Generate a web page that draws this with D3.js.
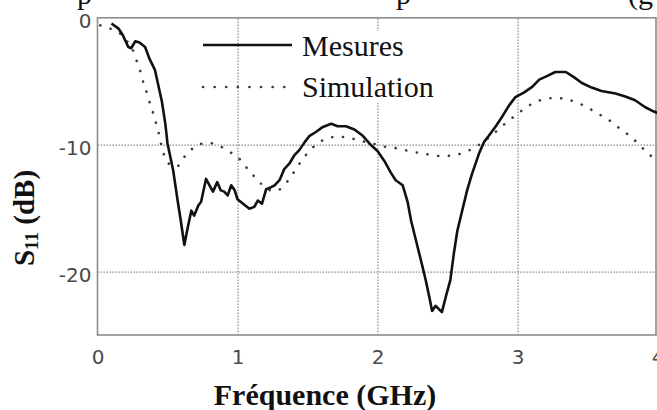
<!DOCTYPE html>
<html>
<head>
<meta charset="utf-8">
<script src="https://cdn.jsdelivr.net/npm/d3@7"></script>
<style>
body { margin: 0; background: #fff; }
svg { display: block; }
</style>
</head>
<body>
<div id="chart"></div>
<script>
"use strict";

// measured S11 (solid line)
let mesFreq = [0.10,0.15,0.18,0.22,0.24,0.27,0.30,0.34,0.37,0.41,0.43,0.46,0.485,0.50,0.54,0.575,0.595,0.62,0.645,0.67,0.69,0.72,0.74,0.775,0.80,0.825,0.855,0.88,0.905,0.93,0.955,0.98,1.0,1.04,1.085,1.12,1.145,1.175,1.205,1.24,1.265,1.30,1.335,1.37,1.405,1.44,1.48,1.515,1.56,1.61,1.67,1.715,1.775,1.835,1.895,1.955,2.0,2.05,2.095,2.13,2.18,2.215,2.24,2.275,2.31,2.345,2.37,2.39,2.415,2.46,2.49,2.52,2.545,2.57,2.605,2.64,2.675,2.725,2.76,2.795,2.845,2.89,2.94,2.985,3.045,3.105,3.155,3.21,3.27,3.345,3.40,3.46,3.53,3.60,3.70,3.77,3.84,3.91,3.97,4.0];
let mesDb = [-0.45,-0.85,-1.35,-2.3,-2.4,-1.85,-1.95,-2.3,-3.2,-4.1,-5.1,-6.6,-8.4,-9.9,-12.0,-14.6,-16.0,-17.9,-16.5,-15.2,-15.6,-14.8,-14.5,-12.7,-13.2,-13.7,-12.95,-13.6,-13.7,-14.0,-13.2,-13.6,-14.3,-14.65,-15.05,-14.9,-14.4,-14.65,-13.5,-13.35,-13.2,-12.8,-11.9,-11.5,-10.85,-10.45,-9.8,-9.3,-9.0,-8.6,-8.35,-8.55,-8.55,-8.8,-9.3,-10.05,-10.5,-11.3,-12.2,-12.8,-13.2,-14.5,-16.0,-17.55,-19.1,-20.7,-22.0,-23.1,-22.7,-23.2,-21.9,-20.7,-18.6,-16.8,-15.2,-13.6,-12.3,-10.7,-9.8,-9.3,-8.55,-7.8,-6.9,-6.25,-5.9,-5.45,-4.87,-4.6,-4.27,-4.27,-4.66,-5.14,-5.5,-5.77,-5.97,-6.2,-6.5,-7.03,-7.37,-7.5];

// simulated S11 (dotted line)
let simFreq = [0.02,0.05,0.13,0.20,0.26,0.285,0.31,0.33,0.355,0.375,0.40,0.42,0.44,0.455,0.475,0.51,0.565,0.61,0.66,0.715,0.795,0.865,0.93,1.0,1.045,1.095,1.145,1.20,1.265,1.33,1.375,1.415,1.455,1.50,1.555,1.62,1.69,1.775,1.845,1.92,2.0,2.07,2.15,2.225,2.30,2.38,2.455,2.535,2.61,2.68,2.745,2.81,2.865,2.925,2.985,3.05,3.115,3.19,3.265,3.345,3.415,3.485,3.555,3.625,3.69,3.745,3.815,3.865,3.925,3.98,4.0];
let simDb = [-0.6,-0.75,-1.0,-1.7,-2.74,-3.56,-4.35,-5.2,-6.0,-6.76,-7.6,-8.4,-9.2,-10.0,-10.8,-11.5,-11.75,-11.1,-10.5,-10.0,-9.87,-10.05,-10.5,-10.95,-11.55,-12.2,-12.8,-13.4,-13.65,-13.27,-12.6,-11.97,-11.3,-10.66,-10.05,-9.6,-9.4,-9.4,-9.6,-9.8,-10.0,-10.2,-10.3,-10.5,-10.65,-10.8,-10.9,-10.85,-10.65,-10.3,-9.87,-9.3,-8.8,-8.2,-7.7,-7.16,-6.7,-6.42,-6.32,-6.4,-6.64,-6.98,-7.43,-7.87,-8.35,-8.87,-9.4,-9.98,-10.58,-11.18,-11.4];

let xTicks = [0,1,2,3,4];
let yTicks = [0,-10,-20];
let legendNames = ["Mesures","Simulation"];

let width = 657, height = 410;

let svg = d3.select("#chart")
.append("svg")
.attr("width",width)
.attr("height",height);

// scales
let xScale = d3.scaleLinear()
.domain([0,4])
.range([97.5,657.5]);

let yScale = d3.scaleLinear()
.domain([-25,0])
.range([335,17.8]);

// fragments of the text line above the figure (cut by the crop)
let topFrag = [["p",77],["p",396],["(g",628]];
svg.selectAll("text.frag")
.data(topFrag)
.join("text")
.attr("class","frag")
.attr("x",d => d[1])
.attr("y",4)
.attr("font-family","Liberation Serif, serif")
.attr("font-size",30)
.attr("fill","#111")
.text(d => d[0]);

// grid
let gridX = svg.append("g")
.attr("transform","translate(0,335)")
.call(d3.axisBottom(xScale).tickValues([1,2,3]).tickSize(-317.2).tickFormat(""));
let gridY = svg.append("g")
.attr("transform","translate(97.5,0)")
.call(d3.axisLeft(yScale).tickValues([-10,-20]).tickSize(-560).tickFormat(""));
svg.selectAll(".domain").remove();
svg.selectAll(".tick line")
.attr("stroke","#8a8a8a")
.attr("stroke-width",1.2)
.attr("stroke-dasharray","1.5,1.5");

// frame
svg.append("rect")
.attr("x",97.5)
.attr("y",17.8)
.attr("width",558.5)
.attr("height",317.2)
.attr("fill","none")
.attr("stroke","#8c8c8c")
.attr("stroke-width",1.6);

// tick labels
let xAxis = svg.append("g")
.attr("transform","translate(0,335)")
.call(d3.axisBottom(xScale).tickValues(xTicks).tickSize(0).tickPadding(15).tickFormat(d3.format("d")));
let yAxis = svg.append("g")
.attr("transform","translate(97.5,0)")
.call(d3.axisLeft(yScale).tickValues(yTicks).tickSize(0).tickPadding(6).tickFormat(d => d < 0 ? "-" + Math.abs(d) : d));
xAxis.select(".domain").remove();
yAxis.select(".domain").remove();
yAxis.selectAll(".tick text").attr("dy","0.5em");
svg.selectAll(".tick text")
.attr("font-family","DejaVu Sans, sans-serif")
.attr("font-size",20)
.attr("fill","#4a4a4a");

// legend background
svg.append("rect")
.attr("x",296)
.attr("y",31)
.attr("width",146)
.attr("height",72)
.attr("fill","#fff");

// lines
let mesData = mesFreq.map((f,i) => [f, mesDb[i]]);
let simData = simFreq.map((f,i) => [f, simDb[i]]);

let lineMes = d3.line()
.x(d => xScale(d[0]))
.y(d => yScale(d[1]));

let lineSim = d3.line()
.curve(d3.curveMonotoneX)
.x(d => xScale(d[0]))
.y(d => yScale(d[1]));

svg.append("path")
.datum(simData)
.attr("d",lineSim)
.attr("fill","none")
.attr("stroke","#3a3a3a")
.attr("stroke-width",2.6)
.attr("stroke-linecap","round")
.attr("stroke-dasharray","0.1,10.7");

svg.append("path")
.datum(mesData)
.attr("d",lineMes)
.attr("fill","none")
.attr("stroke","#111")
.attr("stroke-width",2.6)
.attr("stroke-linejoin","round");

// legend
svg.append("line")
.attr("x1",203).attr("x2",292)
.attr("y1",45).attr("y2",45)
.attr("stroke","#111")
.attr("stroke-width",2.6);

svg.append("line")
.attr("x1",203).attr("x2",285)
.attr("y1",87).attr("y2",87)
.attr("stroke","#3a3a3a")
.attr("stroke-width",2.6)
.attr("stroke-linecap","round")
.attr("stroke-dasharray","0.1,11.5");

for(let i=0;i<legendNames.length;i=i+1){
 svg.append("text")
 .attr("x",302)
 .attr("y",56+i*41)
 .attr("font-family","Liberation Serif, serif")
 .attr("font-size",30)
 .attr("fill","#111")
 .text(legendNames[i]);
}

// axis titles
svg.append("text")
.attr("x",325)
.attr("y",405)
.attr("text-anchor","middle")
.attr("font-family","Liberation Serif, serif")
.attr("font-weight","bold")
.attr("font-size",30)
.attr("fill","#111")
.text("Fréquence (GHz)");

let yTitle = svg.append("text")
.attr("transform","translate(34,218) rotate(-90)")
.attr("text-anchor","middle")
.attr("font-family","Liberation Serif, serif")
.attr("font-weight","bold")
.attr("font-size",29)
.attr("fill","#111");
yTitle.append("tspan").text("S");
yTitle.append("tspan").attr("font-size",19).attr("dy",4).text("11");
yTitle.append("tspan").attr("dy",-4).text(" (dB)");
</script>
</body>
</html>
